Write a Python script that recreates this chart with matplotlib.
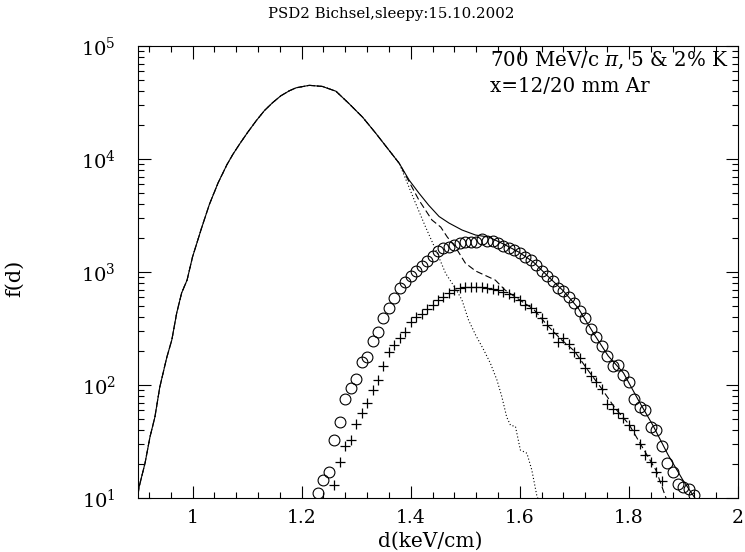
import matplotlib
matplotlib.use('Agg')
import matplotlib.pyplot as plt
from matplotlib.ticker import MultipleLocator, FuncFormatter, LogLocator

plt.rcParams['font.family'] = 'DejaVu Serif'
plt.rcParams['mathtext.fontset'] = 'dejavuserif'

# pion peak, common to all three curves
pi_x = [0.900, 0.902, 0.913, 0.922, 0.931, 0.940, 0.953, 0.962, 0.971, 0.980, 0.990,
        1.000, 1.016, 1.031, 1.047, 1.063, 1.074, 1.086, 1.101, 1.117, 1.132, 1.147,
        1.162, 1.178, 1.190, 1.214, 1.238, 1.263, 1.287, 1.312, 1.336, 1.360, 1.379]
pi_f = [10.6, 12.5, 20.4, 34.7, 52, 96, 177, 250, 434, 652, 849,
        1358, 2400, 3980, 6170, 8900, 11000, 13500, 17200, 21900, 26900, 31600,
        36300, 40300, 42700, 44900, 43900, 39800, 30900, 23400, 16900, 12000, 9160]

# solid: pi + 5% K
tot5_x = [1.397, 1.415, 1.433, 1.452, 1.470, 1.494, 1.519, 1.543, 1.570, 1.598, 1.625,
          1.653, 1.680, 1.707, 1.735, 1.762, 1.790, 1.817, 1.844, 1.872, 1.899, 1.921]
tot5_f = [6520, 5000, 3900, 3100, 2716, 2355, 2124, 2040, 1770, 1503, 1225,
          903, 679, 480, 288, 181, 128, 74, 44, 24, 14.4, 10]

# dashed: pi + 2% K
tot2_x = [1.397, 1.415, 1.439, 1.455, 1.467, 1.482, 1.500, 1.519, 1.543, 1.555, 1.573,
          1.600, 1.625, 1.650, 1.675, 1.700, 1.725, 1.750, 1.775, 1.800, 1.825, 1.850, 1.868]
tot2_f = [6300, 4335, 2884, 2500, 2042, 1663, 1202, 1021, 903, 849, 693,
          565, 470, 340, 255, 200, 135, 93, 62, 45, 28, 17.5, 10]

# dotted: pi only
pion_x = [1.394, 1.409, 1.427, 1.446, 1.464, 1.482, 1.494, 1.506, 1.519, 1.534, 1.546,
          1.558, 1.567, 1.576, 1.583, 1.592, 1.601, 1.613, 1.622, 1.631, 1.633]
pion_f = [6095, 4055, 2518, 1566, 973, 717, 565, 376, 277, 204, 156,
          111, 79, 52, 44, 43, 26.6, 24.9, 17.7, 10.6, 10]

# circles: 5% K
k5_x = [1.23, 1.24, 1.25, 1.26, 1.27, 1.28, 1.29, 1.30, 1.31, 1.32,
        1.33, 1.34, 1.35, 1.36, 1.37, 1.38, 1.39, 1.40, 1.41, 1.42,
        1.43, 1.44, 1.45, 1.46, 1.47, 1.48, 1.49, 1.50, 1.51, 1.52,
        1.53, 1.54, 1.55, 1.56, 1.57, 1.58, 1.59, 1.60, 1.61, 1.62,
        1.63, 1.64, 1.65, 1.66, 1.67, 1.68, 1.69, 1.70, 1.71, 1.72,
        1.73, 1.74, 1.75, 1.76, 1.77, 1.78, 1.79, 1.80, 1.81, 1.82,
        1.83, 1.84, 1.85, 1.86, 1.87, 1.88, 1.89, 1.90, 1.91, 1.92]
k5_f = [11.1, 14.4, 17.0, 32.6, 47.1, 75.2, 94.0, 113, 160, 177,
        245, 294, 392, 480, 589, 721, 817, 922, 1021, 1130,
        1251, 1387, 1535, 1630, 1663, 1734, 1806, 1841, 1841, 1841,
        1959, 1879, 1879, 1806, 1698, 1630, 1566, 1472, 1358, 1277,
        1153, 1021, 922, 832, 721, 679, 601, 532, 452, 392,
        313, 266, 221, 181, 147, 150, 122, 106, 75, 64,
        60, 42.5, 40, 28.8, 20.4, 17.0, 13.3, 12.5, 12.0, 10.6]

# crosses: 2% K
k2_x = [1.26, 1.27, 1.28, 1.29, 1.30, 1.31, 1.32, 1.33, 1.34, 1.35,
        1.36, 1.37, 1.38, 1.39, 1.40, 1.41, 1.42, 1.43, 1.44, 1.45,
        1.46, 1.47, 1.48, 1.49, 1.50, 1.51, 1.52, 1.53, 1.54, 1.55,
        1.56, 1.57, 1.58, 1.59, 1.60, 1.61, 1.62, 1.63, 1.64, 1.65,
        1.66, 1.67, 1.68, 1.69, 1.70, 1.71, 1.72, 1.73, 1.74, 1.75,
        1.76, 1.77, 1.78, 1.79, 1.80, 1.81, 1.82, 1.83, 1.84, 1.85, 1.86]
k2_f = [13.0, 20.8, 28.8, 32.6, 45.2, 56.5, 69.3, 90.3, 111, 147,
        196, 226, 261, 294, 361, 400, 425, 471, 511, 565,
        601, 652, 693, 721, 736, 736, 736, 736, 721, 708,
        693, 665, 638, 601, 565, 511, 480, 443, 392, 340,
        288, 240, 261, 231, 196, 173, 141, 120, 106, 92,
        68, 61, 56.5, 51, 44.3, 40, 30, 24, 20.8, 17.0, 14.1]

fig = plt.figure(figsize=(7.45, 5.52), dpi=100)
ax = fig.add_axes([0.1852, 0.0978, 0.8054, 0.8188])

ax.plot(pi_x + pion_x, pi_f + pion_f, color='black', lw=0.8, ls=(0, (1, 2)))
ax.plot(pi_x + tot2_x, pi_f + tot2_f, color='black', lw=0.8, ls=(0, (6, 3)))
ax.plot(pi_x + tot5_x, pi_f + tot5_f, color='black', lw=0.8)
ax.plot(k5_x, k5_f, ls='none', marker='o', ms=7.8, mfc='none', mec='black', mew=0.8)
ax.plot(k2_x, k2_f, ls='none', marker='+', ms=7.5, mec='black', mew=0.9)

ax.set_yscale('log')
ax.set_xlim(0.9, 2.0)
ax.set_ylim(10, 1e5)
ax.xaxis.set_major_locator(MultipleLocator(0.2))
ax.xaxis.set_minor_locator(MultipleLocator(0.04))
ax.xaxis.set_major_formatter(FuncFormatter(lambda v, p: '%g' % v))
ax.yaxis.set_minor_locator(LogLocator(base=10, subs=range(2, 10)))
ax.tick_params(which='both', direction='in', top=True, right=True, width=0.8)
ax.tick_params(which='major', length=9, pad=8)
ax.tick_params(which='minor', length=4)
ax.tick_params(axis='x', which='major', labelsize=13.5)
ax.tick_params(axis='y', which='major', labelsize=14, pad=16)
for s in ax.spines.values():
    s.set_linewidth(0.8)

fig.text(430 / 745, 1 - 541 / 552, 'd(keV/cm)', ha='center', va='center', fontsize=14.5)
fig.text(15 / 745, 1 - 278 / 552, 'f(d)', rotation=90, ha='center', va='center', fontsize=15)
fig.text(391 / 745, 1 - 14 / 552, 'PSD2 Bichsel,sleepy:15.10.2002', ha='center', va='center', fontsize=10.8)

ax.text((490 - 138) / 600, (498 - 60) / 452, r'700 MeV/c $\pi$, 5 & 2% K', transform=ax.transAxes,
        ha='left', va='center', fontsize=14.3)
ax.text((490 - 138) / 600, (498 - 86) / 452, 'x=12/20 mm Ar', transform=ax.transAxes,
        ha='left', va='center', fontsize=14.3)

fig.savefig('out.png', dpi=100)
